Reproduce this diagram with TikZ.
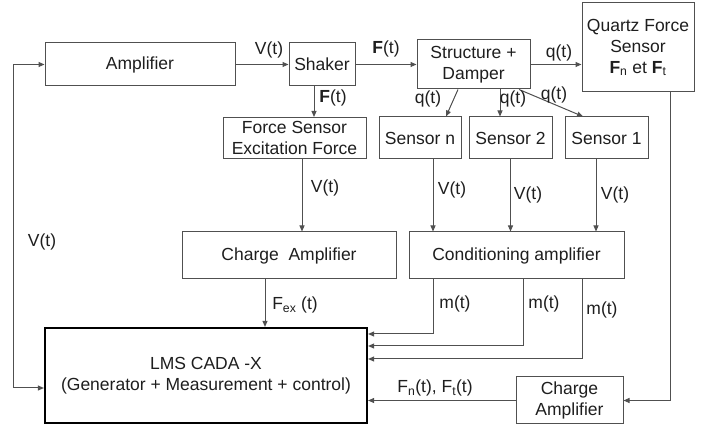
\documentclass[tikz,border=0pt]{standalone}
\usepackage{fontspec}
\setmainfont{Liberation Sans}
\usetikzlibrary{arrows.meta, positioning}
\definecolor{cLine}{RGB}{80,80,80}
\definecolor{cText}{RGB}{30,30,30}

\begin{document}
\begin{tikzpicture}[x=1pt, y=1pt,
      box/.style={draw=cLine, line width=1pt, inner sep=0pt, align=center,
                  text=cText, font=\fontsize{17.5}{21}\selectfont},
      lbl/.style={text=cText, inner sep=0pt, font=\fontsize{17.5}{21}\selectfont},
      >={Triangle[length=6pt, width=5pt]}, line width=1pt, draw=cLine]
    \useasboundingbox (0,0) rectangle (709,427);
    \node[box, minimum width=190pt, minimum height=43pt] (amp) at (140,362.5) {Amplifier};
    \node[box, minimum width=66pt, minimum height=43pt, right=53pt of amp] (shaker) {Shaker};
    \node[box, minimum width=113pt, minimum height=49pt, right=61pt of shaker] (struct) {Structure +\\Damper};
    \node[box, minimum width=112pt, minimum height=89pt] (quartz) at (638,379.5)
         {Quartz Force\\Sensor\\\textbf{F}\textsubscript{n} et \textbf{F}\textsubscript{t}};
    \node[box, minimum width=143pt, minimum height=41pt] (fsens) at (294.5,289) {Force Sensor\\Excitation Force};
    \node[box, minimum width=82pt, minimum height=42pt] (sensn) at (420,289) {Sensor n};
    \node[box, minimum width=83pt, minimum height=42pt, right=7pt of sensn] (sens2) {Sensor 2};
    \node[box, minimum width=83pt, minimum height=42pt, right=12pt of sens2] (sens1) {Sensor 1};
    \node[box, minimum width=214pt, minimum height=47pt] (camp) at (289,171.5) {Charge~ Amplifier};
    \node[box, minimum width=215pt, minimum height=47pt, right=12pt of camp] (cond) {Conditioning amplifier};
    \node[box, draw=black, line width=2.2pt, minimum width=322pt, minimum height=95pt] (lms) at (206,51.5)
         {LMS CADA -X\\(Generator + Measurement + control)};
    \node[box, minimum width=107pt, minimum height=47pt] (camp2) at (569.5,26.5) {Charge\\Amplifier};
    \draw[->] (amp) -- (shaker);
    \draw[->] (shaker) -- (struct);
    \draw[->] (struct.east) -- (struct.east -| quartz.west);
    \draw[->] ([xshift=-8pt]shaker.south) -- ([xshift=-8pt]shaker.south |- fsens.north);
    \draw[->] ([xshift=7.5pt]fsens.south) -- ([xshift=7.5pt]fsens.south |- camp.north);
    \draw[->] ([xshift=-15.5pt]struct.south) -- ([xshift=26pt]sensn.north);
    \draw[->] ([xshift=26.5pt]struct.south) -- ([xshift=26.5pt]struct.south |- sens2.north);
    \draw[->] ([xshift=45.5pt]struct.south) -- ([xshift=-23.5pt]sens1.north);
    \draw[->] ([xshift=13pt]sensn.south) -- ([xshift=13pt]sensn.south |- cond.north);
    \draw[->] (sens2.south) -- (sens2.south |- cond.north);
    \draw[->] ([xshift=-10.5pt]sens1.south) -- ([xshift=-10.5pt]sens1.south |- cond.north);
    \draw[->] ([xshift=-24pt]camp.south) -- ([xshift=-24pt]camp.south |- lms.north);
    \draw[->] ([xshift=-83.5pt]cond.south) |- ([yshift=41.5pt]lms.east);
    \draw[->] ([xshift=6.5pt]cond.south) |- ([yshift=29.5pt]lms.east);
    \draw[->] ([xshift=65.5pt]cond.south) |- ([yshift=16.5pt]lms.east);
    \draw[->] ([xshift=32pt]quartz.south) |- (camp2.east);
    \draw[->] (camp2.west) -- (camp2.west -| lms.east);
    \draw[<->] ([yshift=-12.5pt]lms.west) -| ([xshift=-31pt]amp.west) -- (amp.west);
    \node[lbl] (vamp) at (269,377) {V(t)};
    \node[lbl] (fsh) at (386,378) {\textbf{F}(t)};
    \node[lbl] (qq) at (559,374) {q(t)};
    \node[lbl] (fdown) at (333,329) {\textbf{F}(t)};
    \node[lbl] (vfs) at (325,239) {V(t)};
    \node[lbl] (qn) at (428,328) {q(t)};
    \node[lbl] (qtwo) at (513,328) {q(t)};
    \node[lbl] (qone) at (554,332) {q(t)};
    \node[lbl] (vn) at (452,237) {V(t)};
    \node[lbl] (vtwo) at (528,232) {V(t)};
    \node[lbl] (vone) at (615,232) {V(t)};
    \node[lbl] (vleft) at (42,185) {V(t)};
    \node[lbl] (fex) at (295,122) {F\textsubscript{ex} (t)};
    \node[lbl] (mn) at (455,123) {m(t)};
    \node[lbl] (mtwo) at (544,123) {m(t)};
    \node[lbl] (mone) at (602,117) {m(t)};
    \node[lbl] (fnft) at (435,39) {F\textsubscript{n}(t), F\textsubscript{t}(t)};
  \end{tikzpicture}
\end{document}
